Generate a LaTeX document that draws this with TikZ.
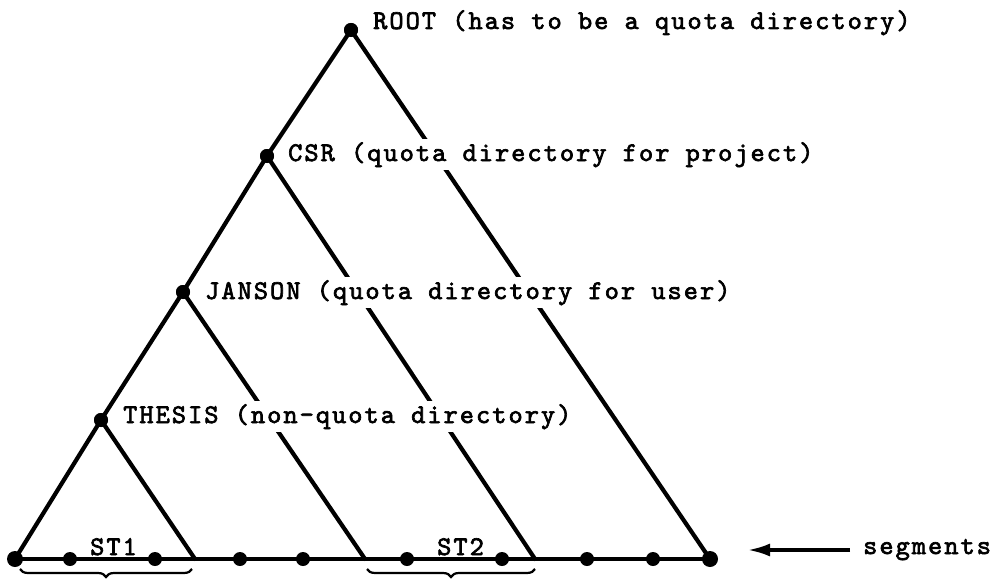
\documentclass[tikz,border=0pt]{standalone}
\usepackage{fontspec}
\usetikzlibrary{arrows.meta,decorations.pathreplacing}
% spaced typewriter face for all labels
\newfontfamily\tw{lmmono10-regular}[Extension=.otf,LetterSpace=7.6,FakeBold=2.5]
\tikzset{
  dot/.style={circle,fill=black,inner sep=0pt,minimum size=14pt},
  bigdot/.style={dot,minimum size=16pt},
  edge/.style={line width=4.2pt,line cap=round,line join=round},
  baseline/.style={line width=3.4pt},
  label/.style={font=\tw\fontsize{27pt}{29pt}\selectfont,inner sep=3pt,anchor=base west},
  cutlabel/.style={label,fill=white},
  curly/.style={decorate,decoration={brace,mirror,amplitude=8pt},line width=2.2pt},
}
\begin{document}
\begin{tikzpicture}[x=1pt,y=-1pt]
\useasboundingbox (0,0) rectangle (995,583);

% directory nodes along the left edge
\node[dot] (root) at (351,30) {};
\node[dot] (csr) at (267,156) {};
\node[dot] (jan) at (183,292) {};
\node[dot] (the) at (101,420) {};

% segments on the bottom line
\node[bigdot] (b0) at (15,559) {};
\node[dot] (b1) at (70,559) {};
\node[dot] (b2) at (155,559) {};
\node[dot] (b3) at (240,559) {};
\node[dot] (b4) at (303,559) {};
\node[dot] (b5) at (407,559) {};
\node[dot] (b6) at (502,559) {};
\node[dot] (b7) at (587,559) {};
\node[dot] (b8) at (653,559) {};
\node[bigdot] (b9) at (710,559) {};

% right-hand ends of the subtrees
\coordinate (e1) at (195,559);
\coordinate (e2) at (365,559);
\coordinate (e3) at (535,559);

% tree edges
\draw[edge] (root.center) -- (csr.center) -- (jan.center) -- (the.center) -- (b0.center);
\draw[edge] (root.center) -- (b9.center);
\draw[edge] (csr.center) -- (e3);
\draw[edge] (jan.center) -- (e2);
\draw[edge] (the.center) -- (e1);
\draw[baseline] (b0.center) -- (b9.center);

% directory labels (they interrupt the lines behind them)
\node[cutlabel] (lroot) at (370,29) {ROOT (has to be a quota directory)};
\node[cutlabel] (lcsr) at (285,161) {CSR (quota directory for project)};
\node[cutlabel] (ljan) at (202,299) {JANSON (quota directory for user)};
\node[cutlabel] (lthe) at (120,423) {THESIS (non-quota directory)};

% redraw the dots over the labels' backgrounds
\foreach \n in {root,csr,jan,the} \node[dot] at (\n) {};

% segment groups
\node[label] (st1) at (87,555) {ST1};
\node[label] (st2) at (434,555) {ST2};
\coordinate (g1a) at (20,569);
\coordinate (g1b) at (192,569);
\coordinate (g2a) at (367,569);
\coordinate (g2b) at (535,569);
\draw[curly] (g1a) -- (g1b);
\draw[curly] (g2a) -- (g2b);

% pointer to the segment row
\node[label] (seg) at (860,554) {segments};
\coordinate (tip) at (748,550);
\draw[line width=3.2pt,-{Latex[length=22pt,width=13pt]}] ([xshift=-10pt,yshift=4pt]seg.base west) -- (tip);
\end{tikzpicture}
\end{document}
